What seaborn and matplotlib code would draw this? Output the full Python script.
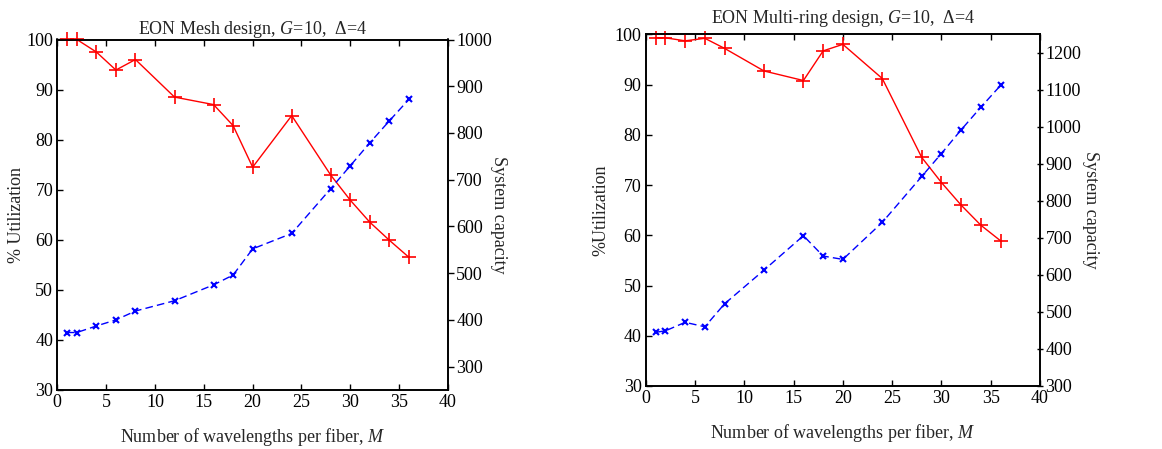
import matplotlib
matplotlib.use("Agg")
import matplotlib.pyplot as plt
import seaborn as sns
import numpy as np

# Number of wavelengths per fiber
wavelengths = [1, 2, 4, 6, 8, 12, 16, 18, 20, 24, 28, 30, 32, 34, 36]

# EON mesh design
mesh_utilization = [100, 100, 97.5, 93.9, 96.0, 88.5, 87.0, 82.8, 74.5, 84.8,
                    72.9, 67.9, 63.5, 59.9, 56.5]
mesh_capacity = [373, 373, 387, 400, 419, 441, 475, 496, 552, 585,
                 681, 730, 779, 826, 872]

# EON multi-ring design
ring_utilization = [99.3, 99.3, 98.7, 99.2, 97.2, 92.7, 90.8, 96.7, 98.0, 91.2,
                    75.5, 70.5, 66.0, 62.0, 58.9]
ring_capacity = [445, 449, 472, 460, 522, 613, 706, 651, 642, 742,
                 866, 928, 992, 1053, 1112]

x_ticks = [0, 5, 10, 15, 20, 25, 30, 35, 40]
util_ticks = [30, 40, 50, 60, 70, 80, 90, 100]
mesh_cap_ticks = [300, 400, 500, 600, 700, 800, 900, 1000]
ring_cap_ticks = [300, 400, 500, 600, 700, 800, 900, 1000, 1100, 1200]

FS = 13

sns.set_style("ticks")
plt.rcParams["font.family"] = ["Liberation Serif", "DejaVu Serif"]
plt.rcParams["mathtext.fontset"] = "custom"
plt.rcParams["mathtext.rm"] = "Liberation Serif"
plt.rcParams["mathtext.it"] = "Liberation Serif:italic"
plt.rcParams["axes.linewidth"] = 1.2
plt.rcParams["font.size"] = FS

fig = plt.figure(figsize=(11.62, 4.49), dpi=100)
W, H = 1162, 449


def box(l, t, r, b):
    return [l / W, 1 - b / H, (r - l) / W, (b - t) / H]


def panel(rect, util, cap, cap_lim, cap_ticks, title, ylab, title_pad,
          right_dir, ylab_x, ylab2_x, xlab_y):
    ax = fig.add_axes(rect)
    sns.lineplot(x=wavelengths, y=util, ax=ax, color="red", marker="+",
                 markersize=10, markeredgewidth=1.2, markeredgecolor="red",
                 linewidth=1.0, clip_on=False, zorder=3)
    ax.set_xlim(0, 40)
    ax.set_ylim(30, 100)
    ax.set_xticks(x_ticks)
    ax.set_yticks(util_ticks)
    ax.tick_params(direction="in", length=4, width=1, labelsize=FS,
                   top=True, right=False, pad=3, colors="black")
    for s in ax.spines.values():
        s.set_color("black")
    ax.set_title(title, fontsize=FS, pad=title_pad)
    ax.set_xlabel("Number of wavelengths per fiber, $M$", fontsize=FS)
    ax.set_ylabel(ylab, fontsize=FS)

    ax2 = ax.twinx()
    sns.lineplot(x=wavelengths, y=cap, ax=ax2, color="blue", marker="x",
                 markersize=5, markeredgewidth=1.5, markeredgecolor="blue",
                 linewidth=1.0, linestyle=(0, (5.5, 3)), clip_on=False,
                 zorder=3)
    ax2.set_ylim(*cap_lim)
    ax2.set_yticks(cap_ticks)
    ax2.tick_params(direction=right_dir, length=4, width=1, labelsize=FS,
                    pad=2, colors="black")
    ax2.set_ylabel("System capacity", fontsize=FS, rotation=-90)
    for s in ax2.spines.values():
        s.set_color("black")

    # Axis label placement in figure coordinates
    ax.yaxis.set_label_coords(ylab_x / W, (rect[1] + rect[3] / 2),
                              transform=fig.transFigure)
    ax2.yaxis.set_label_coords(ylab2_x / W, (rect[1] + rect[3] / 2),
                               transform=fig.transFigure)
    ax.xaxis.set_label_coords((rect[0] + rect[2] / 2), 1 - xlab_y / H,
                              transform=fig.transFigure)
    ax.xaxis.label.set_va("center")
    ax.yaxis.label.set_va("center")
    ax2.yaxis.label.set_va("center")
    return ax, ax2


panel(box(57.3, 39.5, 448, 390), mesh_utilization, mesh_capacity,
      (250, 1000), mesh_cap_ticks,
      "EON Mesh design, $G$=10,  \u0394=4", "% Utilization", 4,
      "out", 17, 498, 437)

panel(box(645.7, 34.3, 1040, 386), ring_utilization, ring_capacity,
      (300, 1250), ring_cap_ticks,
      "EON Multi-ring design, $G$=10,  \u0394=4", "%Utilization", 8,
      "inout", 601, 1090, 433)

fig.savefig("out.png", dpi=100, facecolor="white")
